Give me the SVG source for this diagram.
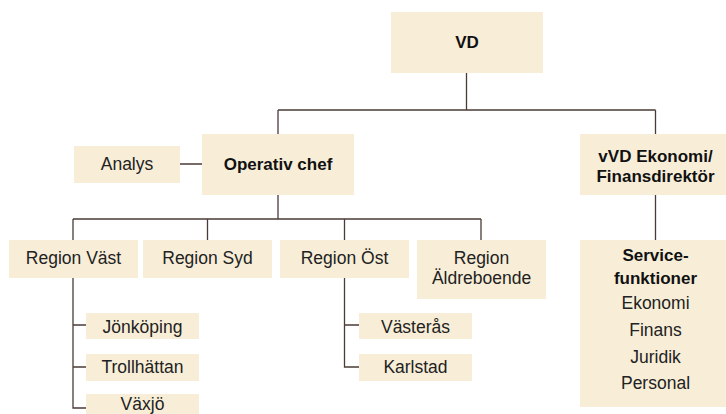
<svg xmlns="http://www.w3.org/2000/svg" width="726" height="414" viewBox="0 0 726 414">
<style>
.box{fill:#f8eed8}
.t{font-family:"Liberation Sans",Arial,Helvetica,sans-serif;font-size:17.5px;fill:#222;text-anchor:middle}
.b{font-weight:bold;fill:#111;font-size:17px}
.ln{stroke:#4b3b37;stroke-width:1.3;fill:none}
</style>
<rect width="726" height="414" fill="#fff"/>
<g id="connectors">
<path class="ln" d="M466.5 73V110M278 110H655.5M278 110V134M278 195V219M73 219H481M73 219V240M207.5 219V240M344.5 219V240M481 219V240M180 164H202M655.5 110V134M655.5 195V240M73 278V408H86M73 325H86M73 367H86M344.5 278V367H359M344.5 325H359"/>
</g>
<g id="vd"><rect class="box" x="391" y="12" width="152" height="61"/><text class="t b" x="467" y="48">VD</text></g>
<g id="operativ"><rect class="box" x="202" y="134" width="152" height="61"/><text class="t b" x="278" y="170">Operativ chef</text></g>
<g id="analys"><rect class="box" x="74" y="146" width="106" height="37"/><text class="t" x="127" y="170">Analys</text></g>
<g id="vvd"><rect class="box" x="580" y="134" width="152" height="61"/><text class="t b" x="655.5" y="162">vVD Ekonomi/</text><text class="t b" x="655.5" y="182">Finansdirektör</text></g>
<g id="region-vast"><rect class="box" x="9" y="240" width="129" height="38"/><text class="t" x="73.5" y="264">Region Väst</text></g>
<g id="region-syd"><rect class="box" x="143" y="240" width="129" height="38"/><text class="t" x="207.5" y="264">Region Syd</text></g>
<g id="region-ost"><rect class="box" x="280" y="240" width="129" height="38"/><text class="t" x="344.5" y="264">Region Öst</text></g>
<g id="region-aldre"><rect class="box" x="417" y="240" width="129" height="59"/><text class="t" x="481.5" y="264">Region</text><text class="t" x="481.5" y="284">Äldreboende</text></g>
<g id="service"><rect class="box" x="580" y="240" width="152" height="167"/><text class="t b" x="655.5" y="261">Service-</text><text class="t b" x="655.5" y="284">funktioner</text><text class="t" x="655.5" y="309">Ekonomi</text><text class="t" x="655.5" y="336">Finans</text><text class="t" x="655.5" y="363">Juridik</text><text class="t" x="655.5" y="389">Personal</text></g>
<g id="jonkoping"><rect class="box" x="86" y="313" width="113" height="26"/><text class="t" x="142.5" y="333">Jönköping</text></g>
<g id="trollhattan"><rect class="box" x="86" y="354" width="113" height="27"/><text class="t" x="142.5" y="373">Trollhättan</text></g>
<g id="vaxjo"><rect class="box" x="86" y="394" width="113" height="27"/><text class="t" x="142.5" y="409.5">Växjö</text></g>
<g id="vasteras"><rect class="box" x="359" y="313" width="113" height="26"/><text class="t" x="415.5" y="333">Västerås</text></g>
<g id="karlstad"><rect class="box" x="359" y="354" width="113" height="27"/><text class="t" x="415.5" y="373">Karlstad</text></g>
</svg>
